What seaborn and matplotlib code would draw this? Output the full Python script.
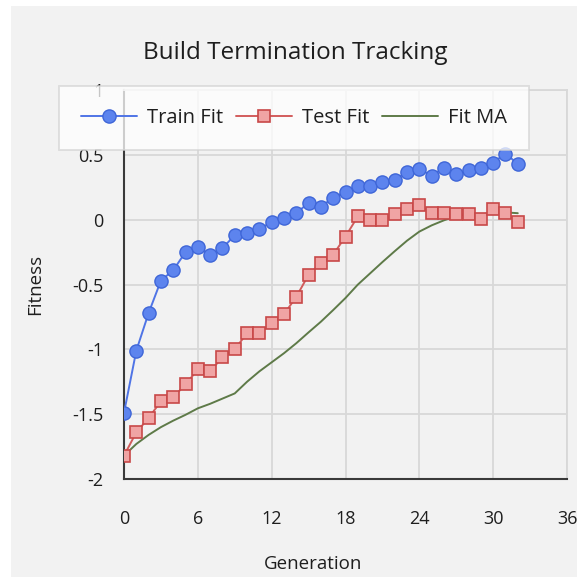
import numpy as np
import pandas as pd
import matplotlib
matplotlib.use("Agg")
import matplotlib.pyplot as plt
from matplotlib.patches import Rectangle
from matplotlib.ticker import MultipleLocator, FuncFormatter
import seaborn as sns

generation = list(range(33))
train_fit = [-1.49, -1.01, -0.72, -0.47, -0.39, -0.25, -0.21, -0.27, -0.22, -0.12,
             -0.10, -0.07, -0.02, 0.01, 0.05, 0.13, 0.10, 0.17, 0.215, 0.26,
             0.26, 0.29, 0.305, 0.37, 0.39, 0.34, 0.40, 0.35, 0.38, 0.395,
             0.44, 0.51, 0.43]
test_fit = [-1.82, -1.64, -1.53, -1.40, -1.37, -1.27, -1.155, -1.17, -1.06, -1.0,
            -0.875, -0.875, -0.80, -0.73, -0.595, -0.425, -0.335, -0.27, -0.13, 0.025,
            -0.005, -0.005, 0.04, 0.08, 0.11, 0.055, 0.055, 0.04, 0.04, 0.005,
            0.08, 0.055, -0.02]
fit_ma = [-1.82, -1.73, -1.66, -1.60, -1.55, -1.505, -1.455, -1.42, -1.38, -1.34,
          -1.25, -1.17, -1.10, -1.03, -0.953, -0.869, -0.787, -0.697, -0.604, -0.501,
          -0.414, -0.327, -0.243, -0.162, -0.092, -0.044, -0.005, 0.027, 0.044, 0.042,
          0.05, 0.056, 0.05]

df = pd.DataFrame({"Generation": generation, "Train Fit": train_fit,
                   "Test Fit": test_fit, "Fit MA": fit_ma})

sns.set_style("white")
plt.rcParams["font.family"] = ["Open Sans", "DejaVu Sans"]

bg = "#f2f2f2"
txt = "#1e1e1e"
fig = plt.figure(figsize=(5.77, 5.77), dpi=100, facecolor="white")
fig.patches.append(Rectangle((11 / 577, 0), 1, 1 - 6 / 577, transform=fig.transFigure,
                             facecolor=bg, edgecolor="none", zorder=-10))
ax = fig.add_axes([124 / 577, 1 - 479 / 577, 443 / 577, 389 / 577])
ax.set_facecolor("none")

sns.lineplot(data=df, x="Generation", y="Fit MA", ax=ax, color="#5e7a48",
             linewidth=1.4, label="Fit MA", zorder=3)
sns.lineplot(data=df, x="Generation", y="Test Fit", ax=ax, color="#d25c5c",
             linewidth=1.4, marker="s", markersize=9, markerfacecolor="#f0a4a4",
             markeredgecolor="#c84848", markeredgewidth=1.2, label="Test Fit", zorder=4)
sns.lineplot(data=df, x="Generation", y="Train Fit", ax=ax, color="#4f74e6",
             linewidth=1.4, marker="o", markersize=9.5, markerfacecolor="#5d84ee",
             markeredgecolor="#3f66d8", markeredgewidth=1.0, label="Train Fit", zorder=5)

ax.set_xlim(0, 36)
ax.set_ylim(-2, 1)
ax.xaxis.set_major_locator(MultipleLocator(6))
ax.yaxis.set_major_locator(MultipleLocator(0.5))
ax.yaxis.set_minor_locator(MultipleLocator(0.1))
ax.yaxis.set_major_formatter(FuncFormatter(lambda v, p: f"{v:g}"))

ax.grid(True, which="major", color="#d8d8d8", linewidth=1.3)
ax.set_axisbelow(True)
for s in ["top", "right"]:
    ax.spines[s].set_color("#d8d8d8")
    ax.spines[s].set_linewidth(1.3)
for s in ["left", "bottom"]:
    ax.spines[s].set_color("#3a3a3a")
    ax.spines[s].set_linewidth(1.5)

ax.tick_params(axis="both", which="major", direction="in", length=9, width=1.5,
               color="#3a3a3a", labelsize=13, labelcolor=txt)
ax.tick_params(axis="x", pad=22)
ax.tick_params(axis="y", pad=15)
ax.tick_params(axis="y", which="minor", direction="in", length=5, width=1.2,
               color="#3a3a3a")

ax.set_xlabel("Generation", fontsize=13.5, color=txt)
ax.set_ylabel("Fitness", fontsize=13.5, color=txt)
ax.xaxis.set_label_coords((313 - 124) / 443, -(555 - 479) / 389)
ax.yaxis.set_label_coords(-(124 - 44) / 443, 0.5)

fig.text(295 / 577, 1 - 53 / 577, "Build Termination Tracking", ha="center",
         va="center", fontsize=17.5, color=txt)

handles, labels = ax.get_legend_handles_labels()
order = [labels.index("Train Fit"), labels.index("Test Fit"), labels.index("Fit MA")]
leg = ax.legend([handles[i] for i in order], [labels[i] for i in order],
                loc="center", bbox_to_anchor=(294 / 577, 1 - 118 / 577),
                bbox_transform=fig.transFigure, ncol=3, fontsize=14.5,
                frameon=True, fancybox=False, framealpha=0.75, edgecolor="#d4d4d4",
                facecolor="white", handlelength=2.8, columnspacing=0.6,
                handletextpad=0.5, borderpad=1.1)
leg.get_frame().set_linewidth(1.3)
for t in leg.get_texts():
    t.set_color(txt)
leg.set_zorder(10)

fig.savefig("out.png", dpi=100, facecolor=fig.get_facecolor())
